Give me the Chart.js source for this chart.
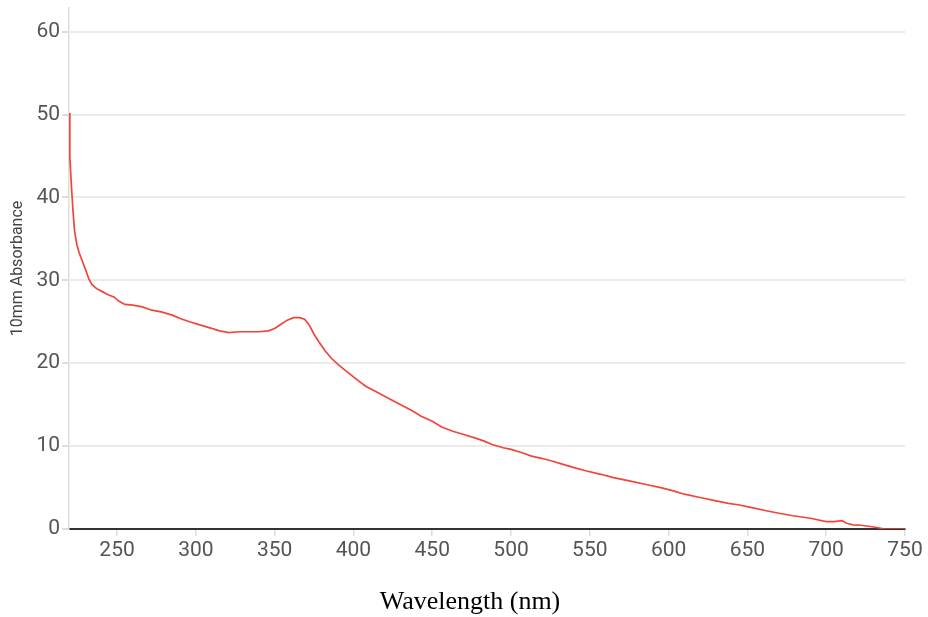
<!DOCTYPE html>
<html>
<head>
<meta charset="utf-8">
<script src="https://cdn.jsdelivr.net/npm/chart.js@4"></script>
<style>
  html, body { margin: 0; padding: 0; background: #fff; }
  #wrap { position: relative; width: 928px; height: 617px; }
  #xtitle { position: absolute; left: 0; width: 940px; top: 584px; text-align: center;
            font-family: "Liberation Serif", "Times New Roman", serif; font-size: 26px; color: #000; line-height: 34px; }
</style>
</head>
<body>
<div id="wrap">
  <canvas id="c" width="928" height="617"></canvas>
  <div id="xtitle">Wavelength (nm)</div>
</div>
<script>
const wavelengths = [219.5,220,221,222,223,224.5,226,228,230,232,234,237,240,244,248,251,255,260,266,272,278,285,290,296,303,310,315,321,328,335,340,346,350,354,358,362,366,369,372,375,378,382,386,390,395,399,403,408,413,418,424,430,437,443,450,456,463,470,477,483,488,495,500,507,513,520,526,533,540,548,557,565,575,585,595,603,610,620,630,638,645,652,662,670,679,690,700,705,710,713,717,722,728,733,737,745,750];
const absorbance = [50.2,45,41.5,38.5,36,34.3,33.3,32.3,31.3,30.2,29.5,29.0,28.7,28.3,28.0,27.5,27.1,27.0,26.8,26.4,26.2,25.8,25.4,25.0,24.6,24.2,23.9,23.7,23.8,23.8,23.8,23.9,24.2,24.7,25.2,25.5,25.5,25.3,24.6,23.5,22.6,21.5,20.6,19.9,19.1,18.5,17.9,17.2,16.7,16.2,15.6,15.0,14.3,13.6,13.0,12.3,11.8,11.4,11.0,10.6,10.2,9.8,9.6,9.2,8.8,8.5,8.2,7.8,7.4,7.0,6.6,6.2,5.8,5.4,5.0,4.6,4.2,3.8,3.4,3.1,2.9,2.6,2.2,1.9,1.6,1.3,0.9,0.9,1.0,0.7,0.5,0.45,0.3,0.15,0.0,0.0,0.0];
const xTickValues = [250,300,350,400,450,500,550,600,650,700,750];
const yTickValues = [0,10,20,30,40,50,60];
const yAxisTitle = '10mm Absorbance';

const points = wavelengths.map((w, i) => ({ x: w, y: absorbance[i] }));
const tickFont = { family: 'Roboto', size: 21 };

new Chart(document.getElementById('c'), {
  type: 'line',
  data: { datasets: [{ data: points, borderColor: '#f2453a', borderWidth: 1.7, pointRadius: 0, tension: 0, fill: false }] },
  options: {
    responsive: false,
    animation: false,
    layout: { padding: { left: 0, right: 23, top: 8, bottom: 48 } },
    plugins: { legend: { display: false }, tooltip: { enabled: false } },
    scales: {
      x: {
        type: 'linear', min: 219.5, max: 750,
        afterBuildTicks: s => { s.ticks = xTickValues.map(v => ({ value: v })); },
        afterFit: s => { s.height = 40; },
        grid: { drawOnChartArea: false, tickLength: 7, color: '#dddddd', lineWidth: 1.5 },
        border: { color: '#333333', width: 2 },
        ticks: { font: tickFont, color: '#555555', padding: 2, maxRotation: 0 }
      },
      y: {
        min: 0, max: 62.86,
        afterBuildTicks: s => { s.ticks = yTickValues.map(v => ({ value: v })); },
        afterFit: s => { s.width = 69; s.paddingTop = 0; s.paddingBottom = 0; },
        grid: { color: '#ebebeb', lineWidth: 2, tickLength: 7, tickColor: '#dddddd' },
        border: { color: '#dddddd', width: 1.5 },
        ticks: { font: tickFont, color: '#555555', padding: 2 },
        title: { display: true, text: yAxisTitle, font: { family: 'Roboto', size: 16 }, color: '#444444', padding: { top: 8, bottom: 0 } }
      }
    }
  }
});
</script>
</body>
</html>
